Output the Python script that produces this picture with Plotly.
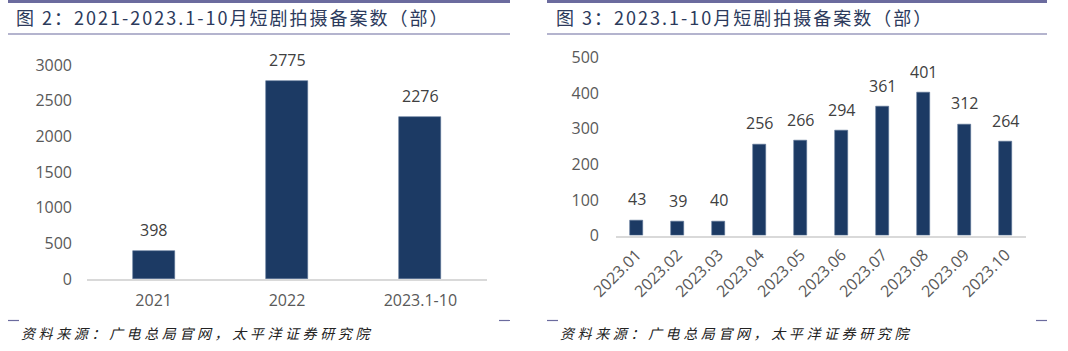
import plotly.graph_objects as go

# ---------------- data ----------------
left_categories = ["2021", "2022", "2023.1-10"]
left_values = [398, 2775, 2276]

right_categories = ["2023.01", "2023.02", "2023.03", "2023.04", "2023.05",
                    "2023.06", "2023.07", "2023.08", "2023.09", "2023.10"]
right_values = [43, 39, 40, 256, 266, 294, 361, 401, 312, 264]

left_title = "图 2：2021-2023.1-10月短剧拍摄备案数（部）"
right_title = "图 3：2023.1-10月短剧拍摄备案数（部）"
source_text = "资料来源：广电总局官网，太平洋证券研究院"

left_yticks = [0, 500, 1000, 1500, 2000, 2500, 3000]
right_yticks = [0, 100, 200, 300, 400, 500]

# ---------------- styling ----------------
W, H = 1068, 351
BAR = "#1c3a64"
TICK_C = "#595959"
LAB_C = "#404040"
FRAME_C = "#6b6b9e"
TITLE_C = "#2c3a5c"
NUM_FONT = "Open Sans"
CJK_FONT = "Noto Sans CJK SC"


def px(xp):
    return xp / W


def py(yp):
    return 1 - yp / H


fig = go.Figure()

fig.add_trace(go.Bar(x=left_categories, y=left_values, xaxis="x", yaxis="y",
                     marker=dict(color=BAR, line=dict(color="#5a7296", width=0.6)),
                     width=0.315, showlegend=False, hoverinfo="x+y"))
fig.add_trace(go.Bar(x=right_categories, y=right_values, xaxis="x2", yaxis="y2",
                     marker=dict(color=BAR, line=dict(color="#5a7296", width=0.6)),
                     width=0.317, showlegend=False, hoverinfo="x+y"))

axis_common = dict(showgrid=False, zeroline=False, ticks="", fixedrange=True,
                   automargin=False)

fig.update_layout(
    width=W, height=H,
    margin=dict(l=0, r=0, t=0, b=0, autoexpand=False),
    paper_bgcolor="white", plot_bgcolor="white",
    font=dict(family=NUM_FONT, size=16, color=TICK_C),
    xaxis=dict(domain=[px(87), px(487)], anchor="y", type="category",
               range=[-0.5, len(left_categories) - 0.5],
               showline=True, linecolor="#d9d9d9", linewidth=1.5,
               tickfont=dict(size=16, color=TICK_C, family=NUM_FONT),
               ticklabelstandoff=6, **axis_common),
    yaxis=dict(domain=[py(279), py(65)], anchor="x", range=[0, 3000],
               tickvals=left_yticks, showline=False,
               tickfont=dict(size=16, color=TICK_C, family=NUM_FONT),
               ticklabelstandoff=14, **axis_common),
    xaxis2=dict(domain=[px(616), px(1026)], anchor="y2", type="category",
                range=[-0.5, len(right_categories) - 0.5],
                showline=True, linecolor="#d9d9d9", linewidth=1.5,
                tickangle=-45,
                tickfont=dict(size=16, color=TICK_C, family=NUM_FONT),
                ticklabelstandoff=2, **axis_common),
    yaxis2=dict(domain=[py(235.5), py(57.5)], anchor="x2", range=[0, 500],
                tickvals=right_yticks, showline=False,
                tickfont=dict(size=16, color=TICK_C, family=NUM_FONT),
                ticklabelstandoff=16, **axis_common),
    bargap=0,
)

annotations = []
# data labels (category axes: x is the category's serial number)
for i, v in enumerate(left_values):
    annotations.append(dict(x=i, y=v, xref="x", yref="y", text=str(v),
                            showarrow=False, yanchor="bottom", yshift=8,
                            font=dict(size=16, color=LAB_C, family=NUM_FONT)))
for i, v in enumerate(right_values):
    annotations.append(dict(x=i, y=v, xref="x2", yref="y2", text=str(v),
                            showarrow=False, yanchor="bottom", yshift=8,
                            font=dict(size=16, color=LAB_C, family=NUM_FONT)))

# titles
annotations.append(dict(x=px(232), y=py(17), xref="paper", yref="paper",
                        text='<span style="letter-spacing:2px">%s</span>' % left_title,
                        showarrow=False, xanchor="center", yanchor="middle",
                        font=dict(size=18, color=TITLE_C, family=CJK_FONT)))
annotations.append(dict(x=px(744), y=py(17), xref="paper", yref="paper",
                        text='<span style="letter-spacing:2px">%s</span>' % right_title,
                        showarrow=False, xanchor="center", yanchor="middle",
                        font=dict(size=18, color=TITLE_C, family=CJK_FONT)))
# sources
for xc in (197, 736):
    annotations.append(dict(x=px(xc), y=py(333), xref="paper", yref="paper",
                            text='<span style="letter-spacing:3.6px"><i>%s</i></span>' % source_text,
                            showarrow=False, xanchor="center", yanchor="middle",
                            font=dict(size=14, color="#222222", family=CJK_FONT)))

fig.update_layout(annotations=annotations)

shapes = []
for (a, b) in ((8, 510), (547, 1047)):
    # thick top rule
    shapes.append(dict(type="rect", xref="paper", yref="paper",
                       x0=px(a), x1=px(b), y0=py(0), y1=py(3),
                       fillcolor=FRAME_C, line=dict(width=0)))
    # thin rule under the title
    shapes.append(dict(type="line", xref="paper", yref="paper",
                       x0=px(a), x1=px(b), y0=py(34), y1=py(34),
                       line=dict(color=FRAME_C, width=1.2)))
    # footer dashes
    shapes.append(dict(type="line", xref="paper", yref="paper",
                       x0=px(a), x1=px(a + 11), y0=py(320.5), y1=py(320.5),
                       line=dict(color=FRAME_C, width=1.2)))
    shapes.append(dict(type="line", xref="paper", yref="paper",
                       x0=px(b - 11), x1=px(b), y0=py(320.5), y1=py(320.5),
                       line=dict(color=FRAME_C, width=1.2)))
fig.update_layout(shapes=shapes)

fig.write_html("out.html", config=dict(displayModeBar=False))
